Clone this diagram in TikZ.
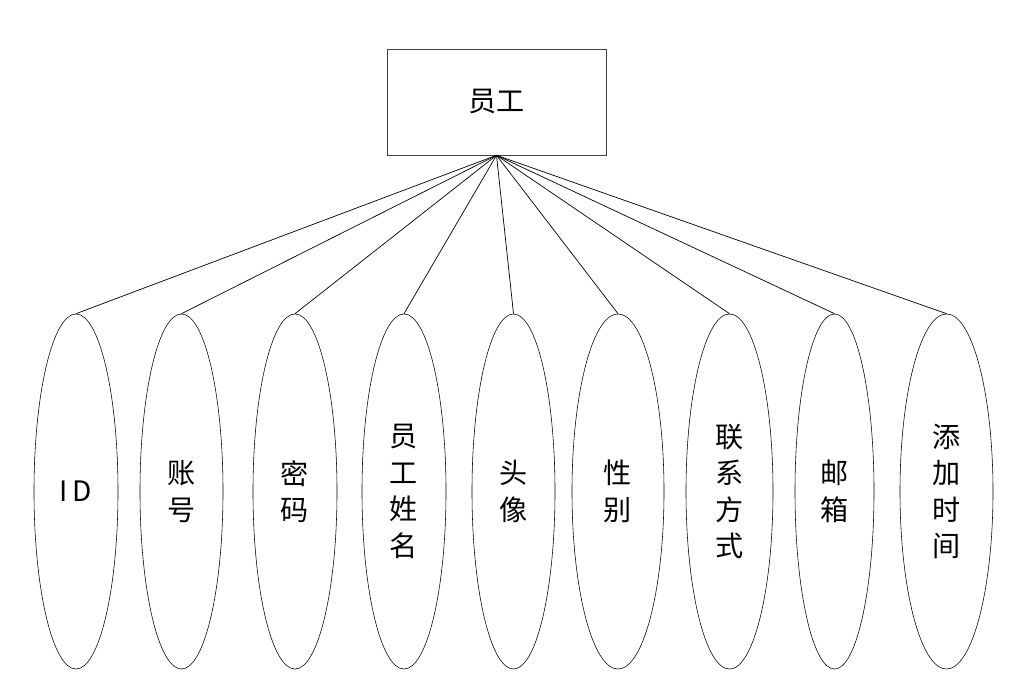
\documentclass[tikz,border=0pt]{standalone}
\usepackage{fontspec}
\newfontfamily\cjk{Noto Sans CJK SC}
\usepackage{tikz}
\usetikzlibrary{shapes.geometric}

\begin{document}
\begin{tikzpicture}[x=0.025cm, y=-0.025cm,
    entity/.style={draw=black!75, rectangle, minimum width=5.475cm, minimum height=2.65cm, inner sep=0pt, font=\cjk\fontsize{20}{26}\selectfont},
    attr/.style={draw, ellipse, inner sep=0pt, minimum height=8.875cm, align=center, font=\cjk\fontsize{20}{26}\selectfont},
    link/.style={draw, line width=0.5pt}
  ]
    \useasboundingbox (0,0) rectangle (1020,690);

    % Entity
    \node[entity] (staff) at (496.5,102) {员工};

    % Attributes
    \node[attr, minimum width=2.1cm] (id) at (76,491.5) {I\,D};
    \node[attr, minimum width=2.075cm] (account) at (181.5,491.5) {账\\号};
    \node[attr, minimum width=2.1cm] (password) at (295,491.5) {密\\码};
    \node[attr, minimum width=2.1cm] (name) at (404,491.5) {员\\工\\姓\\名};
    \node[attr, minimum width=2.075cm] (avatar) at (513.5,491.5) {头\\像};
    \node[attr, minimum width=2.3cm] (gender) at (618,491.5) {性\\别};
    \node[attr, minimum width=2.175cm] (contact) at (729.5,491.5) {联\\系\\方\\式};
    \node[attr, minimum width=1.975cm] (email) at (834.5,491.5) {邮\\箱};
    \node[attr, minimum width=2.325cm] (addtime) at (946.5,491.5) {添\\加\\时\\间};

    % Links
    \draw[link] (staff.south) -- (id.north);
    \draw[link] (staff.south) -- (account.north);
    \draw[link] (staff.south) -- (password.north);
    \draw[link] (staff.south) -- (name.north);
    \draw[link] (staff.south) -- (avatar.north);
    \draw[link] (staff.south) -- (gender.north);
    \draw[link] (staff.south) -- (contact.north);
    \draw[link] (staff.south) -- (email.north);
    \draw[link] (staff.south) -- (addtime.north);
\end{tikzpicture}
\end{document}
